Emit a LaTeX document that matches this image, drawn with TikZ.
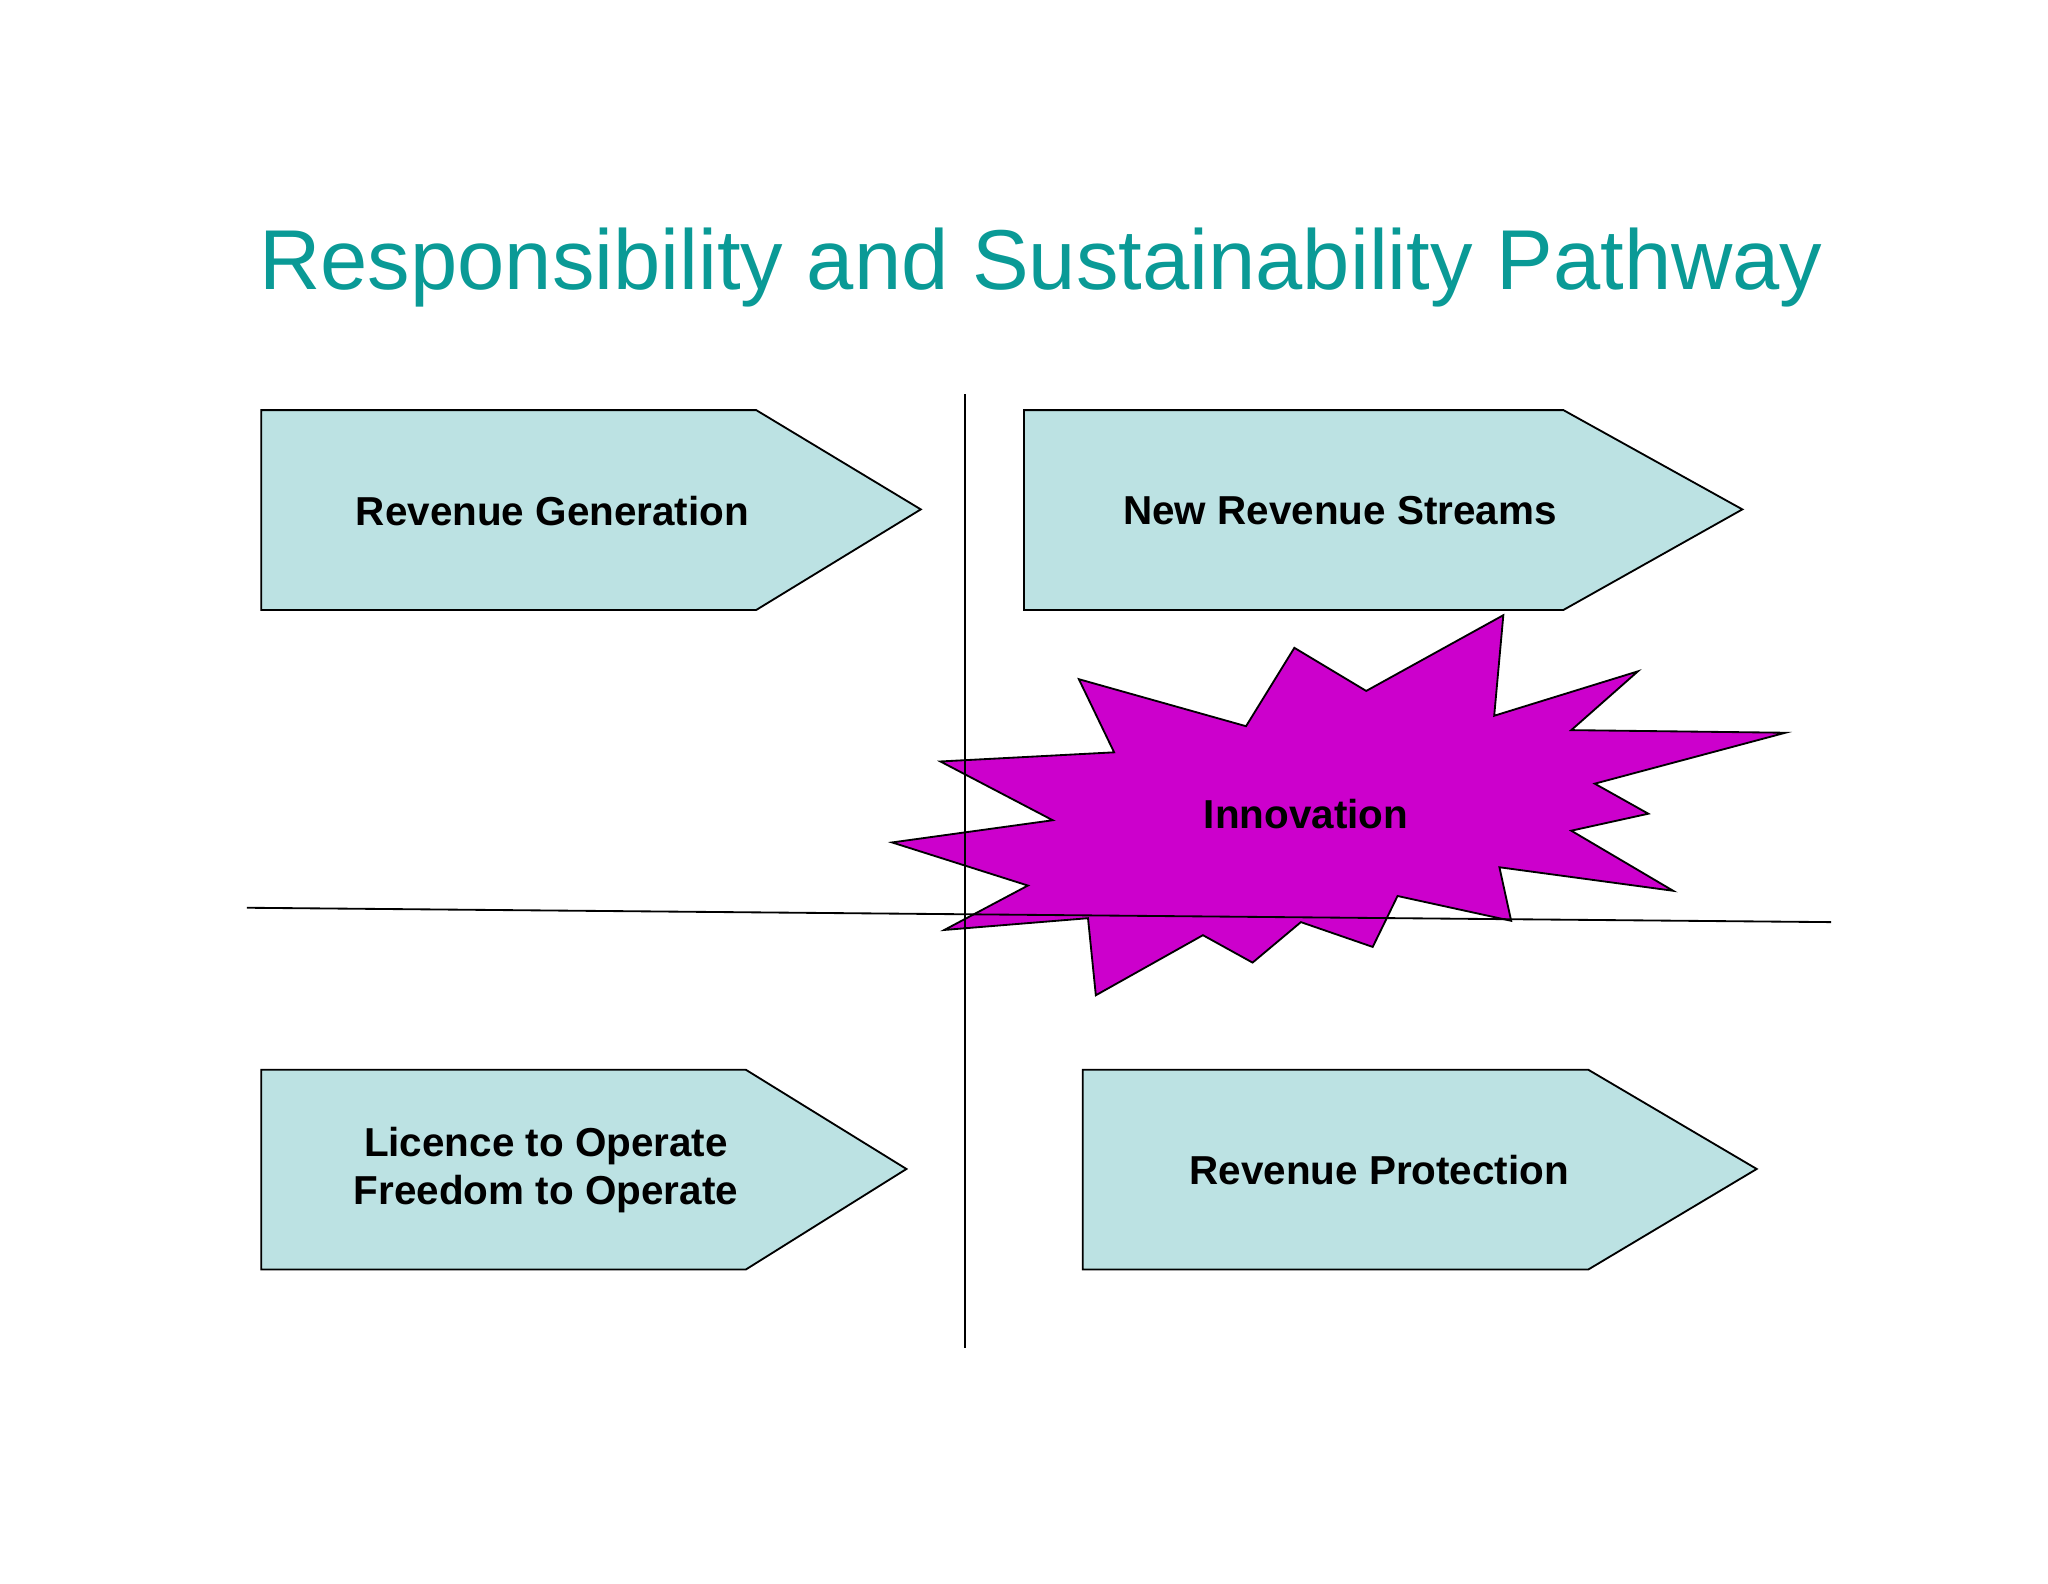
\documentclass[tikz,border=0pt]{standalone}
\usepackage{fontspec}
\setmainfont{Liberation Sans}
\definecolor{teal1}{HTML}{0A9A96}
\definecolor{box}{HTML}{BCE2E3}
\definecolor{mag}{HTML}{CC00CC}
\begin{document}
\begin{tikzpicture}[x=0.01cm,y=-0.01cm,
  arrowbox/.style={draw=black,fill=box,line width=0.4pt},
  lbl/.style={font=\fontsize{8.8}{10.5}\selectfont\bfseries,align=center},
  axis/.style={draw=black,line width=0.4pt}]
\useasboundingbox (0,0) rectangle (1568,1212);
\node[text=teal1,font=\fontsize{18.5}{22}\selectfont] (title) at (797,205) {Responsibility and Sustainability Pathway};
\draw[arrowbox] (200,314)--(579,314)--(705,390)--(579,467)--(200,467)--cycle;
\draw[arrowbox] (784,314)--(1197,314)--(1334,390)--(1197,467)--(784,467)--cycle;
\draw[arrowbox] (200,819)--(571,819)--(694,895)--(571,972)--(200,972)--cycle;
\draw[arrowbox] (829,819)--(1216,819)--(1345,895)--(1216,972)--(829,972)--cycle;
\node[lbl] (rg) at (423,391) {Revenue Generation};
\node[lbl] (nrs) at (1026,391) {New Revenue Streams};
\node[lbl] (lo) at (418,896) {Licence to Operate\\Freedom to Operate};
\node[lbl] (rp) at (1056,896) {Revenue Protection};
\draw[draw=black,fill=mag,line width=0.4pt] (1151,471)--(1144,548)--(1254,514)--(1203,559)--(1367,561)--(1221,600)--(1262,623)--(1203,636)--(1281,682)--(1148,664)--(1157,705)--(1070,686)--(1051,725)--(996,706)--(959,737)--(921,716)--(839,762)--(833,703)--(723,712)--(787,678)--(683,645)--(806,628)--(720,583)--(853,576)--(826,520)--(954,556)--(991,496)--(1046,529)--cycle;
\node[lbl] (inn) at (1000,623) {Innovation};
\coordinate (vt) at (739,302); \coordinate (vb) at (739,1032);
\coordinate (hl) at (189,695); \coordinate (hr) at (1402,706);
\draw[axis] (vt)--(vb);
\draw[axis] (hl)--(hr);
\end{tikzpicture}
\end{document}
